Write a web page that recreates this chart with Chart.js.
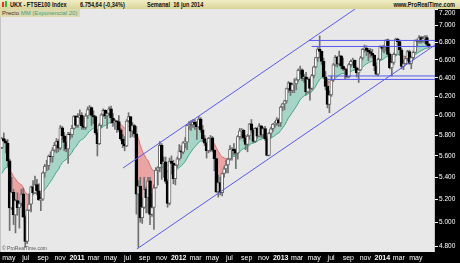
<!DOCTYPE html>
<html>
<head>
<meta charset="utf-8">
<script src="https://cdn.jsdelivr.net/npm/chart.js@4.4.0/dist/chart.umd.min.js"></script>
<style>
  body { margin: 0; background: #000; }
  #wrap { position: relative; width: 460px; height: 263px; overflow: hidden; font-family: "Liberation Sans", Arial, sans-serif; }
  #chart { position: absolute; left: 0; top: 0; }
  #title { position: absolute; left: 0; top: 0; width: 460px; height: 9px; background: linear-gradient(#f1eec6, #d9d496); color: #111; font-weight: bold; font-size: 7px; line-height: 9px; white-space: nowrap; z-index: 2; }
  #title span { position: absolute; top: 0; transform: scaleX(0.8); transform-origin: left center; }
  #title span.r { transform-origin: right center; }
  .ico { position: absolute; top: 2px; width: 2px; height: 5px; }
  #legend { position: absolute; left: 0; top: 9px; height: 8px; padding: 0 3px 0 2px; background: #dcd9ad; font-size: 6px; line-height: 8px; color: #333; white-space: nowrap; z-index: 2; }
  #legend .mm { color: #3f9f80; }
  #copy { position: absolute; left: 2px; top: 245px; font-size: 5px; color: #555; white-space: nowrap; z-index: 2; }
</style>
</head>
<body>
<div id="wrap">
  <canvas id="chart" width="460" height="263"></canvas>
  <div id="title">
    <div class="ico" style="left:2px;background:#d33;"></div>
    <div class="ico" style="left:5px;top:1px;height:6px;background:#3b3;"></div>
    <span style="left:10px">UKX - FTSE100 Index</span>
    <span style="left:80px">6.754,64 (-0,34%)</span>
    <span style="left:147px">Semanal&nbsp; 16 jun 2014</span>
    <span class="r" style="right:5px">www.ProRealTime.com</span>
  </div>
  <div id="legend">Precio <span class="mm">MM (Exponencial 20)</span></div>
  <div id="copy">© ProRealTime.com</div>
</div>
<script>
// weekly candles, week of 5 apr 2010 .. week of 16 jun 2014
const opens = [5680,5770,5744,5723,5553,5123,5262,5063,5188,5126,5163,5250,5046,4838,5105,5158,5313,5258,5332,5275,5195,5201,5440,5501,5508,5598,5593,5657,5703,5741,5675,5875,5797,5732,5668,5812,5808,5871,5996,
  5900,5984,6002,5896,5881,5997,6062,6083,6001,5990,5828,5718,5900,6009,6055,5996,6022,6070,5976,5925,5948,5938,5855,5765,5714,5697,5945,5990,5843,5899,5815,5247,5320,5040,5129,5292,5214,5368,5067,5128,5303,5466,5488,5702,5527,5545,5362,5164,5552,5529,5387,5512,
  5572,5650,5636,5728,5734,5901,5906,5905,5935,5911,5887,5965,5855,5768,5724,5652,5772,5777,5655,5575,5267,5351,5260,5435,5478,5514,5571,5663,5666,5651,5627,5788,5847,5852,5776,5711,5795,5916,5852,5742,5871,5793,5896,5806,5868,5769,5605,5820,5867,5914,5921,5958,5925,
  6089,6121,6154,6284,6347,6263,6328,6335,6378,6484,6490,6393,6412,6249,6384,6286,6426,6522,6625,6723,6696,6583,6412,6308,6116,6215,6375,6544,6631,6554,6647,6529,6500,6492,6413,6547,6583,6596,6512,6454,6487,6623,6721,6735,6708,6693,6674,6651,6532,6440,6606,6751,
  6731,6740,6829,6663,6510,6571,6663,6838,6810,6712,6528,6557,6615,6695,6561,6625,6685,6822,6814,6856,6815,6844,6858,6778];
const highs = [5780,5825,5760,5760,5570,5400,5290,5200,5260,5180,5290,5300,5060,5110,5250,5320,5370,5410,5380,5340,5220,5450,5520,5560,5610,5640,5680,5730,5770,5760,5900,5890,5830,5790,5830,5830,5900,6000,6000,
  6020,6060,6030,5990,6020,6090,6105,6090,6050,6000,5860,5920,6020,6070,6060,6030,6090,6100,6020,5960,5950,6000,5870,5810,5790,5960,6030,5990,5930,5910,5890,5370,5400,5210,5400,5310,5400,5400,5250,5330,5490,5500,5740,5720,5590,5590,5380,5580,5600,5560,5520,5590,
  5710,5700,5740,5780,5910,5940,5950,5960,5960,5940,5990,5980,5900,5800,5730,5780,5800,5790,5660,5580,5420,5400,5440,5500,5560,5580,5700,5680,5720,5670,5800,5870,5870,5860,5800,5810,5920,5960,5870,5880,5880,5920,5900,5880,5890,5790,5830,5880,5920,5940,5980,5970,6100,
  6130,6160,6290,6360,6350,6340,6390,6400,6500,6530,6500,6440,6460,6400,6400,6440,6530,6630,6740,6876,6700,6620,6470,6390,6260,6420,6560,6650,6640,6700,6650,6620,6510,6500,6560,6600,6620,6600,6520,6500,6640,6730,6770,6760,6730,6730,6720,6660,6560,6620,6760,6760,
  6770,6830,6840,6680,6580,6680,6850,6850,6830,6730,6600,6640,6710,6710,6630,6700,6830,6840,6880,6870,6870,6880,6880,6790];
const lows = [5670,5740,5630,5500,4930,5110,4980,4910,5060,4950,5140,5040,4790,4820,5100,5090,5240,5250,5240,5190,5100,5190,5400,5460,5470,5540,5540,5640,5630,5640,5660,5760,5650,5640,5530,5760,5780,5860,5880,
  5880,5920,5860,5860,5860,5970,6010,5900,5920,5810,5600,5710,5880,5990,5970,5870,6000,5920,5890,5860,5830,5840,5750,5680,5650,5690,5930,5780,5790,5780,5070,4790,5000,4990,5120,5080,5080,4980,5050,4940,5300,5330,5450,5380,5400,5340,5130,5150,5430,5340,5330,5490,
  5560,5580,5620,5680,5660,5860,5850,5880,5860,5760,5870,5830,5740,5700,5580,5630,5640,5640,5460,5260,5220,5240,5230,5400,5440,5440,5560,5560,5610,5480,5570,5760,5770,5740,5660,5640,5760,5830,5730,5730,5770,5790,5780,5780,5750,5600,5600,5780,5840,5880,5900,5890,5890,
  6050,6060,6130,6240,6210,6240,6240,6270,6360,6440,6370,6350,6220,6240,6160,6270,6400,6510,6580,6620,6550,6390,6270,6080,6030,6200,6360,6530,6520,6540,6500,6480,6390,6400,6400,6520,6540,6490,6410,6350,6480,6600,6690,6650,6590,6630,6620,6480,6430,6420,6600,6700,
  6680,6700,6650,6500,6420,6550,6650,6760,6650,6500,6490,6550,6590,6550,6500,6600,6680,6750,6790,6790,6800,6790,6760,6740];
const closes = [5770,5744,5723,5553,5123,5262,5063,5188,5126,5163,5250,5046,4838,5105,5158,5313,5258,5332,5275,5195,5201,5440,5501,5508,5598,5593,5657,5703,5741,5675,5875,5797,5732,5668,5812,5808,5871,5996,5900,
  5984,6002,5896,5881,5997,6062,6083,6001,5990,5828,5718,5900,6009,6055,5996,6022,6070,5976,5925,5948,5938,5855,5765,5714,5697,5945,5990,5843,5899,5815,5247,5320,5040,5129,5292,5214,5368,5067,5128,5303,5466,5488,5702,5527,5545,5362,5164,5552,5529,5387,5512,5572,
  5650,5636,5728,5734,5901,5906,5905,5935,5911,5887,5965,5855,5768,5724,5652,5772,5777,5655,5575,5267,5351,5260,5435,5478,5514,5571,5663,5666,5651,5627,5788,5847,5852,5776,5711,5795,5916,5852,5742,5871,5793,5896,5806,5868,5769,5605,5820,5867,5914,5921,5958,5925,6089,
  6121,6154,6284,6347,6263,6328,6335,6378,6484,6490,6393,6412,6249,6384,6286,6426,6522,6625,6723,6696,6583,6412,6308,6116,6215,6375,6544,6631,6554,6647,6529,6500,6492,6413,6547,6583,6596,6512,6454,6487,6623,6721,6735,6708,6693,6674,6651,6532,6440,6606,6751,6731,
  6740,6829,6663,6510,6571,6663,6838,6810,6712,6528,6557,6615,6695,6561,6625,6685,6822,6814,6856,6815,6844,6858,6778,6755];
const emaSeed = 5400;   // MM value just before the first visible week

const yTicks = [4800, 5000, 5200, 5400, 5600, 5800, 6000, 6200, 6400, 6600, 6800, 7000, 7200];
const xTickLabels = ['may','jul','sep','nov','2011','mar','may','jul','sep','nov','2012','mar','may','jul','sep','nov','2013','mar','may','jul','sep','nov','2014','mar','may'];

// drawn lines: [date, price]
const channelUpper = [['2011-06-15', 5486], ['2013-09-25', 7200]];
const channelLower = [['2011-08-04', 4777], ['2014-07-09', 6770]];
const levelStarts = [['2013-04-12', 6823], ['2013-04-22', 6753], ['2013-06-19', 6421], ['2013-06-19', 6383]];

const day = s => Date.parse(s) / 864e5;
const xMin = day('2010-04-03'), xMax = day('2014-07-09');
const firstWeek = day('2010-04-05');
const weekX = closes.map((c, i) => firstWeek + 7 * i + 1);
const xTickValues = xTickLabels.map((l, i) => Date.UTC(2010, 4 + 2 * i, 1) / 864e5);

// exponential moving average, 20 periods
const ema = [];
let prev = emaSeed;
closes.forEach(c => { prev = prev + (c - prev) * 2 / 21; ema.push(prev); });

const up = closes.map((c, i) => c >= opens[i]);
const blue = '#5858f0';
const lineSet = pts => ({
    type: 'line', data: pts.map(p => ({x: day(p[0]), y: p[1]})),
    borderColor: blue, borderWidth: 1, pointRadius: 0, fill: false, order: 1
});

const datasets = [
    {
        type: 'line', data: weekX.map((x, i) => ({x, y: ema[i]})),
        borderWidth: 1, pointRadius: 0, order: 5,
        borderColor: '#3ea98b',
        segment: { borderColor: ctx => closes[ctx.p1DataIndex] < ema[ctx.p1DataIndex] ? '#d77070' : '#3ea98b' }
    },
    {
        type: 'line', data: weekX.map((x, i) => ({x, y: closes[i]})),
        borderWidth: 0, pointRadius: 0, order: 6,
        fill: { target: 0, above: '#a6d5c7', below: '#eaa4a4' }
    },
    {
        type: 'bar', data: weekX.map((x, i) => ({x, y: [lows[i], highs[i]]})),
        backgroundColor: '#707070', barThickness: 1, grouped: false, order: 3
    },
    {
        type: 'bar', data: weekX.map((x, i) => ({x, y: [opens[i], closes[i]]})),
        backgroundColor: up.map(u => u ? '#ffffff' : '#000000'),
        borderColor: up.map(u => u ? '#6a6a6a' : '#000000'),
        borderWidth: 1, borderSkipped: false, barThickness: 3, grouped: false, order: 2
    },
    lineSet(channelUpper),
    lineSet(channelLower),
    ...levelStarts.map(l => lineSet([l, ['2014-07-09', l[1]]]))
];

const background = {
    id: 'background',
    beforeDraw(chart) {
        const {ctx, chartArea: a} = chart;
        ctx.save();
        ctx.fillStyle = '#000';
        ctx.fillRect(0, 0, chart.width, chart.height);
        ctx.fillStyle = '#e8e8e8';
        ctx.fillRect(a.left, a.top, a.right - a.left, a.bottom - a.top);
        ctx.fillStyle = '#c4c4c4';
        ctx.fillRect(a.right - 1, a.top, 1, a.bottom - a.top);
        ctx.fillRect(0, a.top, 1, a.bottom - a.top);
        ctx.restore();
    }
};

new Chart(document.getElementById('chart'), {
    type: 'bar',
    data: { datasets },
    options: {
        responsive: false,
        animation: false,
        events: [],
        layout: { padding: { top: 9, left: 1, right: 0, bottom: 0 } },
        plugins: { legend: { display: false }, tooltip: { enabled: false } },
        scales: {
            x: {
                type: 'linear', min: xMin, max: xMax, offset: false,
                afterBuildTicks: s => { s.ticks = xTickValues.map(v => ({value: v})); },
                afterFit: s => { s.height = 11; },
                grid: { display: false, drawTicks: false, tickLength: 0, offset: false },
                border: { display: false },
                ticks: {
                    autoSkip: false, maxRotation: 0, padding: 2, color: '#ffffff',
                    callback: (v, i) => xTickLabels[i],
                    font: ctx => ({ family: 'Liberation Sans', size: 7, weight: /^\d+$/.test(xTickLabels[ctx.index]) ? 'bold' : 'normal' })
                }
            },
            y: {
                type: 'logarithmic', position: 'right', min: 4752, max: 7200,
                afterBuildTicks: s => { s.ticks = yTicks.map(v => ({value: v})); },
                afterFit: s => { s.width = 25; },
                grid: { drawOnChartArea: false, tickLength: 3, color: '#ffffff' },
                border: { display: false },
                ticks: {
                    autoSkip: false, padding: 1, color: '#ffffff',
                    font: { family: 'Liberation Sans', size: 6.5 },
                    callback: v => {
                        const t = (v / 1000).toFixed(3);
                        return v === 7200 ? ['', t] : t;
                    }
                }
            }
        }
    },
    plugins: [background]
});
</script>
</body>
</html>
